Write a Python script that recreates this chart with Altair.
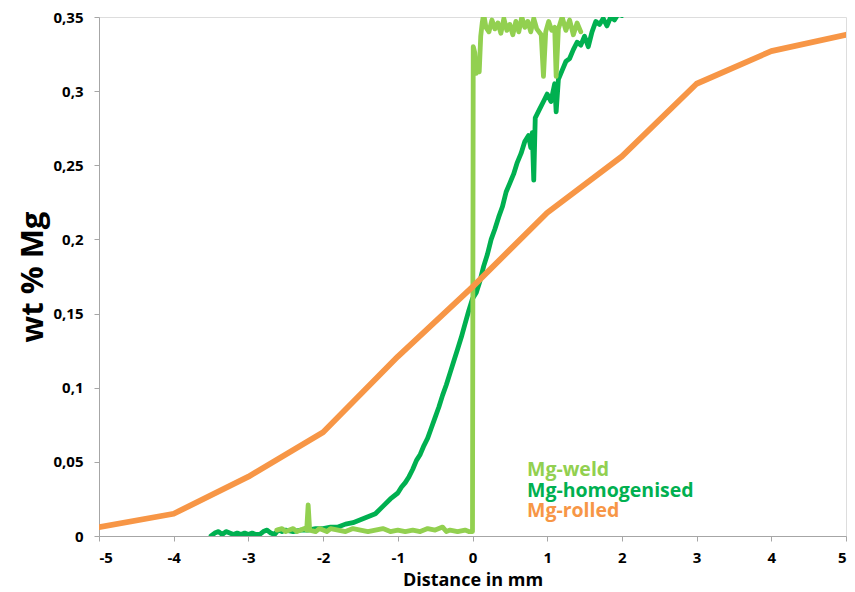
import altair as alt
import pandas as pd

# ---------------- data ----------------
series_names = ["Mg-weld", "Mg-homogenised", "Mg-rolled"]
series_colors = ["#92D050", "#00B050", "#F79646"]

rolled_x = [-5, -4, -3, -2, -1, 0, 1, 2, 3, 4, 5]
rolled_y = [0.006, 0.015, 0.040, 0.070, 0.121, 0.168, 0.218, 0.256, 0.305, 0.327, 0.338]

hom_x = [-3.50, -3.45, -3.40, -3.35, -3.30, -3.25, -3.20, -3.15, -3.10, -3.05,
         -3.00, -2.95, -2.90, -2.85, -2.80, -2.75, -2.70, -2.65, -2.60, -2.55,
         -2.50, -2.40, -2.30, -2.20, -2.10, -2.00, -1.90, -1.80, -1.70, -1.60,
         -1.50, -1.40, -1.30, -1.20, -1.10, -1.00, -0.95, -0.90, -0.85, -0.80,
         -0.75, -0.70, -0.65, -0.60, -0.55, -0.50, -0.45, -0.40, -0.35, -0.30,
         -0.25, -0.20, -0.15, -0.10, -0.05, 0.00, 0.05, 0.10, 0.15, 0.20,
         0.25, 0.30, 0.35, 0.40, 0.45, 0.50, 0.55, 0.60, 0.65, 0.70,
         0.75, 0.78, 0.80, 0.82, 0.84, 0.90, 0.95, 1.00, 1.05, 1.10,
         1.12, 1.15, 1.20, 1.25, 1.30, 1.35, 1.40, 1.45, 1.50, 1.55,
         1.60, 1.65, 1.70, 1.75, 1.80, 1.85, 1.90, 1.95, 2.00, 2.10,
         2.30, 2.60, 3.00]
hom_y = [0.000, 0.002, 0.003, 0.001, 0.003, 0.002, 0.001, 0.002, 0.001, 0.002,
         0.001, 0.002, 0.001, 0.001, 0.003, 0.004, 0.002, 0.001, 0.004, 0.003,
         0.004, 0.003, 0.004, 0.004, 0.005, 0.005, 0.006, 0.006, 0.008, 0.009,
         0.011, 0.013, 0.015, 0.020, 0.025, 0.029, 0.033, 0.036, 0.040, 0.045,
         0.051, 0.055, 0.061, 0.066, 0.073, 0.080, 0.087, 0.095, 0.102, 0.110,
         0.118, 0.126, 0.134, 0.143, 0.152, 0.160, 0.164, 0.172, 0.182, 0.190,
         0.200, 0.207, 0.215, 0.222, 0.232, 0.238, 0.244, 0.252, 0.258, 0.266,
         0.270, 0.262, 0.272, 0.240, 0.282, 0.288, 0.293, 0.298, 0.293, 0.305,
         0.286, 0.308, 0.314, 0.320, 0.322, 0.328, 0.333, 0.331, 0.337, 0.330,
         0.340, 0.347, 0.345, 0.349, 0.344, 0.350, 0.348, 0.352, 0.351, 0.355,
         0.360, 0.370, 0.380]

weld_x = [-2.62, -2.55, -2.50, -2.45, -2.40, -2.35, -2.30, -2.25, -2.22, -2.20,
          -2.18, -2.10, -2.05, -2.00, -1.95, -1.90, -1.80, -1.70, -1.60, -1.50,
          -1.40, -1.30, -1.20, -1.10, -1.00, -0.90, -0.80, -0.70, -0.60, -0.50,
          -0.40, -0.35, -0.30, -0.20, -0.10, -0.05, 0.00, 0.01, 0.03, 0.05,
          0.07, 0.09, 0.11, 0.13, 0.15, 0.18, 0.22, 0.26, 0.30, 0.34,
          0.38, 0.42, 0.46, 0.50, 0.54, 0.58, 0.62, 0.66, 0.70, 0.74,
          0.78, 0.82, 0.86, 0.92, 0.95, 0.98, 1.02, 1.06, 1.10, 1.12,
          1.15, 1.20, 1.25, 1.30, 1.35, 1.40, 1.45]
weld_y = [0.004, 0.005, 0.003, 0.004, 0.005, 0.003, 0.004, 0.005, 0.004, 0.021,
          0.004, 0.003, 0.005, 0.004, 0.003, 0.005, 0.004, 0.003, 0.005, 0.004,
          0.003, 0.004, 0.005, 0.003, 0.004, 0.003, 0.004, 0.003, 0.005, 0.004,
          0.006, 0.003, 0.004, 0.003, 0.004, 0.003, 0.003, 0.330, 0.326, 0.312,
          0.318, 0.313, 0.337, 0.346, 0.352, 0.343, 0.340, 0.348, 0.342, 0.346,
          0.339, 0.349, 0.341, 0.345, 0.338, 0.347, 0.340, 0.350, 0.343, 0.347,
          0.340, 0.349, 0.342, 0.338, 0.310, 0.340, 0.347, 0.341, 0.343, 0.310,
          0.342, 0.350, 0.341, 0.348, 0.338, 0.346, 0.340]

x_ticks = [-5, -4, -3, -2, -1, 0, 1, 2, 3, 4, 5]
y_ticks = [0, 0.05, 0.10, 0.15, 0.20, 0.25, 0.30, 0.35]

# ---------------- chart ----------------
FONT = "Open Sans"
GRAY = "#A6A6A6"
W, H = 747, 519

x_scale = alt.Scale(domain=[-5, 5], nice=False, zero=False)
y_scale = alt.Scale(domain=[0, 0.35], nice=False)

x_axis = alt.Axis(values=x_ticks, labelExpr="toString(datum.value)", title="Distance in mm",
                  grid=False, domainColor=GRAY, tickColor=GRAY, tickSize=5,
                  labelFont=FONT, labelFontSize=15, labelFontWeight="bold", labelColor="#000000",
                  labelPadding=9,
                  titleFont=FONT, titleFontSize=18, titleFontWeight="bold", titleColor="#000000",
                  titleX=W / 2, titleY=49, titleBaseline="alphabetic", titleAlign="center")
y_axis = alt.Axis(values=y_ticks, labelExpr="replace(format(datum.value, '.2~f'), '.', ',')",
                  title="wt % Mg", grid=False, domainColor=GRAY, tickColor=GRAY, tickSize=5,
                  labelFont=FONT, labelFontSize=15, labelFontWeight="bold", labelColor="#000000",
                  labelPadding=11,
                  titleFont=FONT, titleFontSize=31, titleFontWeight="bold", titleColor="#000000",
                  titleAngle=-90, titleX=-57, titleY=H / 2, titleBaseline="alphabetic",
                  titleAlign="center")


def line_layer(xs, ys, color, width):
    df = pd.DataFrame({"x": xs, "y": ys})
    return alt.Chart(df).mark_line(color=color, strokeWidth=width, clip=True,
                                   strokeJoin="round", strokeCap="round").encode(
        x=alt.X("x:Q", scale=x_scale, axis=x_axis),
        y=alt.Y("y:Q", scale=y_scale, axis=y_axis),
        order="x:Q",
    )


hom = line_layer(hom_x, hom_y, series_colors[1], 4.8)
weld = line_layer(weld_x, weld_y, series_colors[0], 4.8)
rolled = line_layer(rolled_x, rolled_y, series_colors[2], 5.8)

legend_ys = [459, 480, 500]
texts = []
for name, col, ly in zip(series_names, series_colors, legend_ys):
    texts.append(
        alt.Chart(pd.DataFrame({"label": [name]})).mark_text(
            align="left", baseline="alphabetic", font=FONT, fontSize=19.5,
            fontWeight="bold", color=col
        ).encode(x=alt.value(428), y=alt.value(ly), text="label:N")
    )

chart = alt.layer(hom, weld, rolled, *texts).properties(
    width=W, height=H,
    autosize=alt.AutoSizeParams(type="none"),
    padding={"left": 91, "top": 9, "right": 1, "bottom": 56},
).configure_view(stroke=GRAY, strokeWidth=1).configure(background="white")

chart.save("out.html", embed_options={"renderer": "svg", "actions": False})
